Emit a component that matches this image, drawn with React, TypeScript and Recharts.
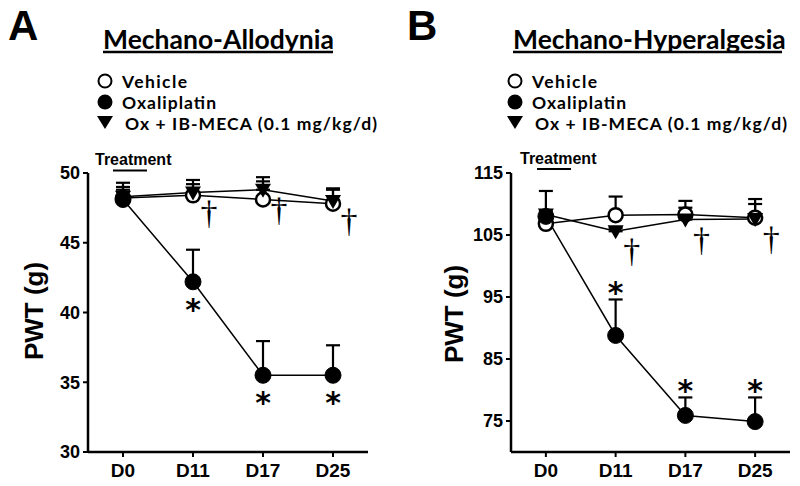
import React from 'react';
import { LineChart, Line, XAxis, YAxis, ErrorBar } from 'recharts';

// time points
const days = ['D0', 'D11', 'D17', 'D25'];

// Panel A: mechano-allodynia, PWT (g)
const vehicleA = [48.2, 48.4, 48.1, 47.8];
const vehicleErrA = [0.6, 0.8, 1.3, 1.0];
const oxA = [48.1, 42.2, 35.5, 35.5];
const oxErrA = [1.2, 2.3, 2.45, 2.15];
const ibA = [48.3, 48.6, 48.8, 48.0];
const ibErrA = [0.7, 0.9, 0.9, 0.9];
const ticksA = [30, 35, 40, 45, 50];

// Panel B: mechano-hyperalgesia, PWT (g)
const vehicleB = [106.8, 108.2, 108.3, 107.8];
const vehicleErrB = [1.0, 3.0, 2.2, 3.0];
const oxB = [108.0, 88.8, 75.9, 74.9];
const oxErrB = [4.1, 5.8, 2.9, 3.9];
const ibB = [108.3, 105.6, 107.5, 107.6];
const ibErrB = [0.5, 0.5, 1.9, 2.4];
const ticksB = [75, 85, 95, 105, 115];

// significance marks
const starFlags = [false, true, true, true];
const daggerFlags = [false, true, true, true];

const FONT = 'Liberation Sans, Arial, sans-serif';
const TITLE_FONT = 'Lato, Open Sans, sans-serif';

const triangleDot = (props: any) => {
  const { cx, cy, index } = props;
  if (cx == null || cy == null) return <g key={index} />;
  return (
    <path
      key={index}
      d={`M${cx - 8},${cy - 6} L${cx + 8},${cy - 6} L${cx},${cy + 8} Z`}
      fill="#000"
    />
  );
};

const makeStar = (dy: number) => (props: any) => {
  const { cx, cy, index, payload } = props;
  if (cx == null || cy == null || !payload.starOn) return <g key={index} />;
  return (
    <text
      key={index}
      x={cx}
      y={cy + dy + 18}
      textAnchor="middle"
      fontFamily="DejaVu Sans, sans-serif"
      fontWeight="bold"
      fontSize={30}
      fill="#000"
    >
      *
    </text>
  );
};

const daggerDot = (props: any) => {
  const { cx, cy, index, payload } = props;
  if (cx == null || cy == null || !payload.daggerOn) return <g key={index} />;
  return (
    <text
      key={index}
      x={cx + 16}
      y={cy + 31}
      textAnchor="middle"
      fontFamily="Liberation Serif, serif"
      fontSize={34}
      fill="#000"
    >
      †
    </text>
  );
};

type PanelProps = {
  left: number;
  yWidth: number;
  right: number;
  domain: [number, number];
  ticks: number[];
  vehicle: number[];
  vehicleErr: number[];
  ox: number[];
  oxErr: number[];
  ib: number[];
  ibErr: number[];
  starAbove: boolean;
};

const Panel = (p: PanelProps) => {
  const data = days.map((d, i) => ({
    x: i,
    vehicle: p.vehicle[i],
    vehicleErr: [0, p.vehicleErr[i]],
    ox: p.ox[i],
    oxErr: [0, p.oxErr[i]],
    ib: p.ib[i],
    ibErr: [0, p.ibErr[i]],
    star: p.starAbove ? p.ox[i] + p.oxErr[i] : p.ox[i],
    starOn: starFlags[i],
    dagger: p.ib[i],
    daggerOn: daggerFlags[i],
  }));

  return (
    <div style={{ position: 'absolute', left: p.left, top: 0 }}>
      <LineChart
        width={400}
        height={486}
        data={data}
        margin={{ top: 173, right: p.right, bottom: 0, left: 0 }}
      >
        <XAxis
          dataKey="x"
          type="number"
          domain={[-0.5, 3.5]}
          ticks={[0, 1, 2, 3]}
          tickFormatter={(v: number) => days[v]}
          height={34}
          tickSize={5}
          tickMargin={7}
          axisLine={{ stroke: '#000', strokeWidth: 2.5 }}
          tickLine={{ stroke: '#000', strokeWidth: 2 }}
          tick={{ fill: '#000', fontSize: 19, fontWeight: 'bold', fontFamily: FONT }}
        />
        <YAxis
          type="number"
          domain={p.domain}
          ticks={p.ticks}
          width={p.yWidth}
          tickSize={5}
          tickMargin={3}
          allowDataOverflow
          axisLine={{ stroke: '#000', strokeWidth: 2.5 }}
          tickLine={{ stroke: '#000', strokeWidth: 2 }}
          tick={{ fill: '#000', fontSize: 18, fontWeight: 'bold', fontFamily: FONT }}
        />
        <Line
          dataKey="vehicle"
          stroke="#000"
          strokeWidth={1.5}
          dot={{ r: 7, fill: '#fff', stroke: '#000', strokeWidth: 2.5 }}
          isAnimationActive={false}
        >
          <ErrorBar dataKey="vehicleErr" width={7} stroke="#000" strokeWidth={2.2} direction="y" />
        </Line>
        <Line
          dataKey="ib"
          stroke="#000"
          strokeWidth={1.5}
          dot={triangleDot}
          isAnimationActive={false}
        >
          <ErrorBar dataKey="ibErr" width={7} stroke="#000" strokeWidth={2.2} direction="y" />
        </Line>
        <Line
          dataKey="ox"
          stroke="#000"
          strokeWidth={1.5}
          dot={{ r: 8, fill: '#000', stroke: '#000', strokeWidth: 1 }}
          isAnimationActive={false}
        >
          <ErrorBar dataKey="oxErr" width={7} stroke="#000" strokeWidth={2.2} direction="y" />
        </Line>
        <Line
          dataKey="star"
          stroke="none"
          dot={makeStar(p.starAbove ? -14 : 20)}
          activeDot={false}
          isAnimationActive={false}
        />
        <Line
          dataKey="dagger"
          stroke="none"
          dot={daggerDot}
          activeDot={false}
          isAnimationActive={false}
        />
      </LineChart>
    </div>
  );
};

const Legend = ({ x }: { x: number }) => (
  <g fontFamily={TITLE_FONT} fontWeight="bold" fontSize={17.5} fill="#000">
    <circle cx={x} cy={81} r={6.5} fill="#fff" stroke="#000" strokeWidth={2} />
    <text x={x + 17} y={87.5} textLength={65} lengthAdjust="spacing">Vehicle</text>
    <circle cx={x} cy={102} r={7.5} fill="#000" />
    <text x={x + 17} y={108.5} textLength={94} lengthAdjust="spacing">Oxaliplatin</text>
    <path d={`M${x - 8},${116} L${x + 8},${116} L${x},${129} Z`} fill="#000" />
    <text x={x + 20} y={129.5} textLength={252} lengthAdjust="spacing">Ox + IB-MECA (0.1 mg/kg/d)</text>
  </g>
);

const Overlay = () => (
  <svg
    width={800}
    height={486}
    style={{ position: 'absolute', left: 0, top: 0, pointerEvents: 'none' }}
  >
    <g fontFamily={FONT} fontWeight="bold" fill="#000">
      <text x={8} y={40} fontSize={42}>A</text>
      <text x={407} y={40} fontSize={42}>B</text>
      <text x={95} y={165} fontSize={16}>Treatment</text>
      <text x={520} y={164} fontSize={16}>Treatment</text>
      <text x={34} y={311} fontSize={26} textAnchor="middle" transform="rotate(-90 34 311)" dy="0.35em">
        PWT (g)
      </text>
      <text x={454} y={314} fontSize={26} textAnchor="middle" transform="rotate(-90 454 314)" dy="0.35em">
        PWT (g)
      </text>
    </g>
    <line x1={113} x2={147} y1={170.5} y2={170.5} stroke="#000" strokeWidth={2} />
    <line x1={537} x2={571} y1={169} y2={169} stroke="#000" strokeWidth={2} />
    <g fontFamily={TITLE_FONT} fontWeight="bold" fontSize={26.5} fill="#000">
      <text x={103} y={48.5}>Mechano-Allodynia</text>
      <text x={513} y={48.5}>Mechano-Hyperalgesia</text>
    </g>
    <line x1={103} x2={333} y1={52} y2={52} stroke="#000" strokeWidth={2.5} />
    <line x1={513} x2={782} y1={52} y2={52} stroke="#000" strokeWidth={2.5} />
    <Legend x={105} />
    <Legend x={515} />
  </svg>
);

export default function App() {
  return (
    <div style={{ position: 'absolute', left: 0, top: 0, width: 800, height: 486, background: '#fff' }}>
      <Panel
        left={0}
        yWidth={88}
        right={32}
        domain={[30, 50]}
        ticks={ticksA}
        vehicle={vehicleA}
        vehicleErr={vehicleErrA}
        ox={oxA}
        oxErr={oxErrA}
        ib={ibA}
        ibErr={ibErrA}
        starAbove={false}
      />
      <Panel
        left={400}
        yWidth={111}
        right={10}
        domain={[70, 115]}
        ticks={ticksB}
        vehicle={vehicleB}
        vehicleErr={vehicleErrB}
        ox={oxB}
        oxErr={oxErrB}
        ib={ibB}
        ibErr={ibErrB}
        starAbove={true}
      />
      <Overlay />
    </div>
  );
}
